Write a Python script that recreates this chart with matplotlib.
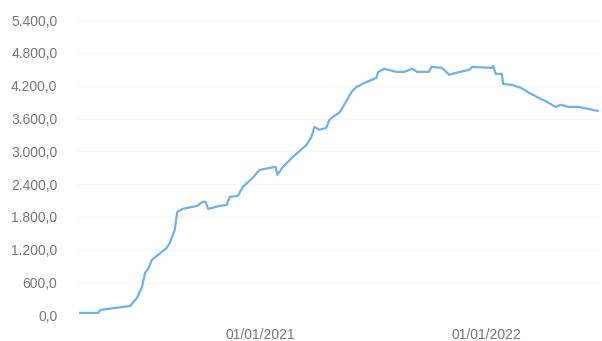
import matplotlib
matplotlib.use("Agg")
import matplotlib.pyplot as plt
import matplotlib.dates as mdates
from matplotlib.ticker import FuncFormatter, MultipleLocator
import pandas as pd

# Serie acumulada (valores leídos por fecha)
fechas = [
    "2020-03-15", "2020-04-13", "2020-04-17", "2020-06-04", "2020-06-15",
    "2020-06-23", "2020-06-28", "2020-07-03", "2020-07-09", "2020-07-17",
    "2020-08-02", "2020-08-07", "2020-08-15", "2020-08-19", "2020-08-28",
    "2020-09-20", "2020-09-29", "2020-10-04", "2020-10-08", "2020-10-27",
    "2020-11-07", "2020-11-12", "2020-11-25", "2020-12-03", "2020-12-19",
    "2020-12-30", "2021-01-16", "2021-01-25", "2021-01-28", "2021-02-06",
    "2021-02-22", "2021-03-16", "2021-03-24", "2021-03-29", "2021-04-06",
    "2021-04-17", "2021-04-22", "2021-04-30", "2021-05-08", "2021-05-16",
    "2021-05-28", "2021-06-05", "2021-06-18", "2021-07-07", "2021-07-10",
    "2021-07-20", "2021-08-08", "2021-08-21", "2021-09-03", "2021-09-11",
    "2021-09-30", "2021-10-04", "2021-10-21", "2021-11-02", "2021-11-13",
    "2021-12-04", "2021-12-09", "2022-01-10", "2022-01-12", "2022-01-16",
    "2022-01-26", "2022-01-28", "2022-02-11", "2022-02-26", "2022-03-11",
    "2022-03-27", "2022-04-09", "2022-04-23", "2022-05-01", "2022-05-14",
    "2022-05-30", "2022-06-15", "2022-06-30",
]
valores = [
    46, 46, 101, 174, 320,
    521, 777, 850, 1015, 1088,
    1235, 1326, 1564, 1893, 1948,
    2003, 2076, 2076, 1948, 2003,
    2021, 2167, 2186, 2350, 2515,
    2661, 2698, 2716, 2570, 2716,
    2899, 3118, 3265, 3448, 3393,
    3429, 3576, 3649, 3704, 3850,
    4088, 4179, 4252, 4344, 4454,
    4509, 4454, 4454, 4509, 4454,
    4454, 4545, 4527, 4399, 4436,
    4490, 4545, 4527, 4563, 4417,
    4417, 4234, 4216, 4161, 4069,
    3978, 3905, 3813, 3850, 3813,
    3813, 3777, 3740,
]
ticks_x = ["2021-01-01", "2022-01-01"]

fechas = pd.to_datetime(fechas)

plt.rcParams['font.family'] = ['Liberation Sans', 'DejaVu Sans']

fig = plt.figure(figsize=(6.02, 3.41), dpi=100)
ax = fig.add_axes([0.13, 0.075, 0.867, 0.866])

ax.plot(fechas, valores, color='#6fb1ea', linewidth=1.6)

ax.set_ylim(0, 5400)
ax.set_xlim(pd.Timestamp("2020-03-12"), pd.Timestamp("2022-07-04"))
ax.yaxis.set_major_locator(MultipleLocator(600))

def fmt_es(v, pos):
    # 1200 -> "1.200,0"
    s = f"{v:,.1f}"
    return s.replace(",", "X").replace(".", ",").replace("X", ".")

ax.yaxis.set_major_formatter(FuncFormatter(fmt_es))
ax.set_xticks(pd.to_datetime(ticks_x))
ax.xaxis.set_major_formatter(mdates.DateFormatter("%d/%m/%Y"))

ax.grid(axis='y', color='#f6f6f6', linewidth=0.8)
ax.set_axisbelow(True)
for s in ax.spines.values():
    s.set_visible(False)
ax.tick_params(axis='both', length=0, labelsize=10, labelcolor='#777777')
ax.tick_params(axis='y', pad=15)
ax.tick_params(axis='x', pad=9)

fig.savefig("out.png", dpi=100)
